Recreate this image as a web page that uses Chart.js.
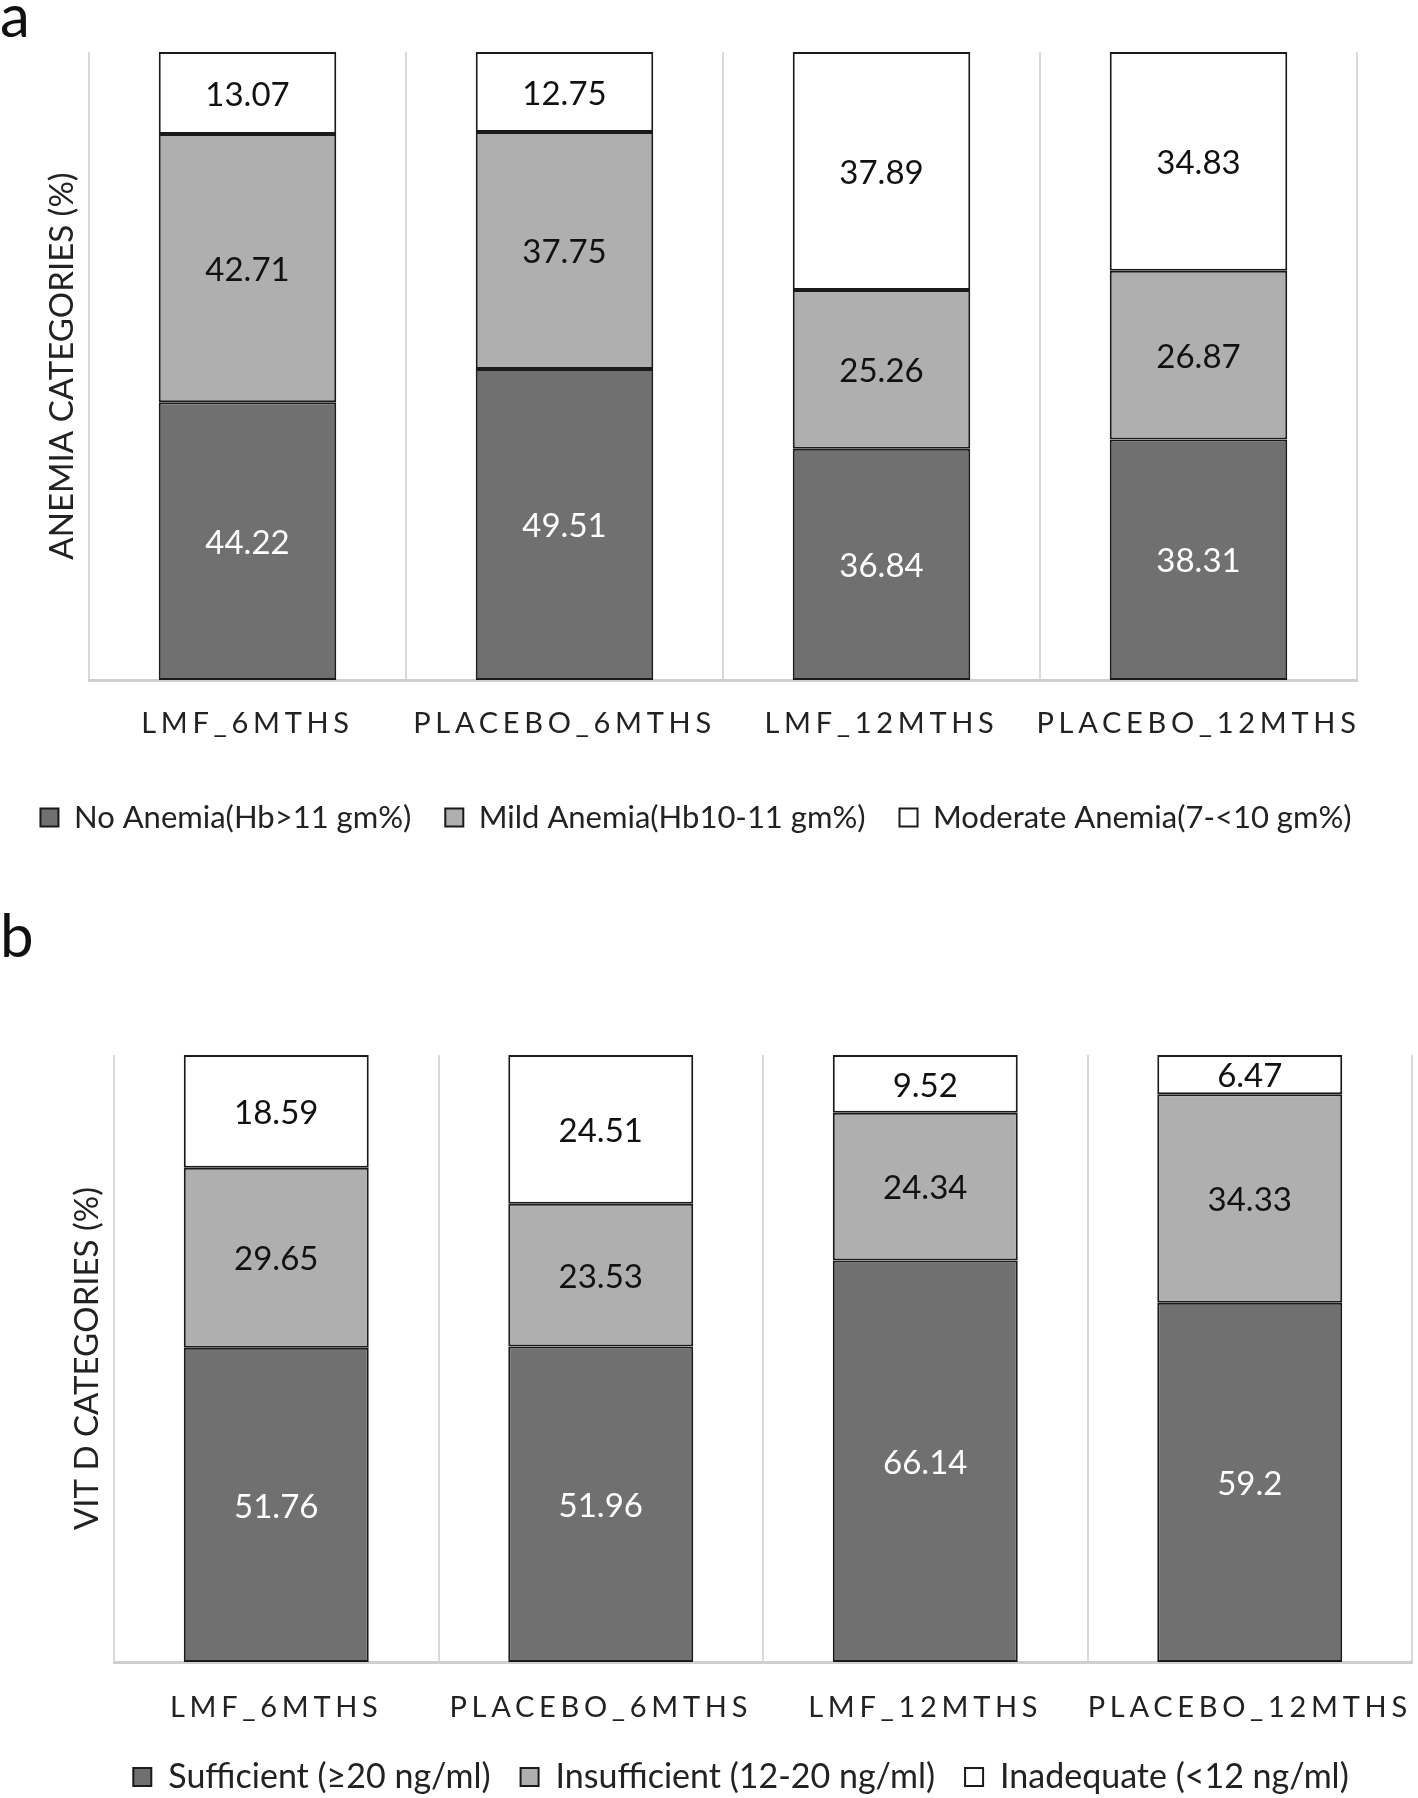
<!DOCTYPE html>
<html>
<head>
<meta charset="utf-8">
<script src="https://cdn.jsdelivr.net/npm/chart.js@4.4.1/dist/chart.umd.min.js"></script>
<style>
  html, body { margin: 0; padding: 0; background: #fff; overflow: hidden; }
  body { width: 1418px; height: 1798px; position: relative; font-family: Lato, sans-serif; }
  .panel { position: absolute; left: 0; width: 1418px; }
  .tag { position: absolute; left: 0; font-size: 60px; line-height: 60px; color: #111; }
</style>
</head>
<body>
<div class="panel" style="top:0;height:860px"><canvas id="chartA"></canvas></div>
<div class="panel" style="top:870px;height:934px"><canvas id="chartB"></canvas></div>
<div class="tag" style="top:-16px">a</div>
<div class="tag" style="top:904px">b</div>
<script>
const groups = ['LMF_6MTHS', 'PLACEBO_6MTHS', 'LMF_12MTHS', 'PLACEBO_12MTHS'];

// panel a - anemia
const noAnemia = [44.22, 49.51, 36.84, 38.31];
const mildAnemia = [42.71, 37.75, 25.26, 26.87];
const moderateAnemia = [13.07, 12.75, 37.89, 34.83];

// panel b - vit D
const sufficient = [51.76, 51.96, 66.14, 59.2];
const insufficient = [29.65, 23.53, 24.34, 34.33];
const inadequate = [18.59, 24.51, 9.52, 6.47];

const dark = 'rgb(112,112,112)';
const mid = 'rgb(175,175,175)';
const light = '#ffffff';

// category axis with spaced-out letters
class SpacedScale extends Chart.CategoryScale {
  drawLabels(area) {
    this.ctx.save();
    this.ctx.letterSpacing = '4.7px';
    super.drawLabels(area);
    this.ctx.restore();
  }
}
SpacedScale.id = 'spaced';
Chart.register(SpacedScale);

const valueLabels = {
  id: 'valueLabels',
  afterDatasetsDraw(chart) {
    const ctx = chart.ctx;
    ctx.save();
    ctx.font = '33px Lato';
    ctx.textAlign = 'center';
    ctx.textBaseline = 'middle';
    chart.data.datasets.forEach((ds, i) => {
      chart.getDatasetMeta(i).data.forEach((bar, j) => {
        const p = bar.getProps(['x', 'y', 'base'], true);
        ctx.fillStyle = i === 0 ? '#ffffff' : '#111111';
        ctx.fillText(String(ds.data[j]), p.x, (p.y + p.base) / 2 + 2);
      });
    });
    ctx.restore();
  }
};

function bar(label, data, color) {
  return {
    label: label,
    data: data,
    backgroundColor: color,
    borderColor: '#1a1a1a',
    borderWidth: 2,
    borderSkipped: false
  };
}

function makeChart(id, datasets, yTitle, s) {
  return new Chart(document.getElementById(id), {
    type: 'bar',
    data: { labels: groups, datasets: datasets },
    plugins: [valueLabels],
    options: {
      responsive: true,
      maintainAspectRatio: false,
      animation: false,
      layout: { padding: s.padding },
      datasets: { bar: { categoryPercentage: s.barPct, barPercentage: 1 } },
      plugins: {
        tooltip: { enabled: false },
        legend: {
          position: 'bottom',
          labels: {
            boxWidth: 18,
            boxHeight: 18,
            padding: s.legendPad,
            color: '#222',
            font: { family: 'Lato', size: s.legendFont }
          }
        }
      },
      scales: {
        x: {
          type: 'spaced',
          stacked: true,
          offset: true,
          grid: { offset: true, drawTicks: false, color: '#d9d9d9', lineWidth: 2 },
          border: { color: '#cfcfcf', width: 3 },
          ticks: { padding: s.tickPad, color: '#222', font: { family: 'Lato', size: 29 } },
          afterFit: sc => { sc.height = s.xHeight; }
        },
        y: {
          stacked: true,
          min: 0,
          max: 100,
          grid: { display: false },
          border: { display: false },
          ticks: { display: false },
          title: {
            display: true,
            text: yTitle,
            color: '#222',
            padding: { top: s.titlePad, bottom: 0 },
            font: { family: 'Lato', size: 33, lineHeight: 1 }
          },
          afterFit: sc => { sc.width = s.yWidth; }
        },
        // empty right-hand spacer so the legend gets the full width
        spacer: {
          position: 'right',
          grid: { display: false },
          border: { display: false },
          ticks: { display: false },
          afterFit: sc => { sc.width = s.rightGap; }
        }
      }
    }
  });
}

makeChart('chartA', [
  bar('No Anemia(Hb>11 gm%)', noAnemia, dark),
  bar('Mild Anemia(Hb10-11 gm%)', mildAnemia, mid),
  bar('Moderate Anemia(7-<10 gm%)', moderateAnemia, light)
], 'ANEMIA CATEGORIES (%)', {
  padding: { top: 52, right: 26, bottom: 17, left: 0 },
  barPct: 0.56, tickPad: 26, xHeight: 88, yWidth: 89, titlePad: 46, rightGap: 35,
  legendFont: 31, legendPad: 34
});

makeChart('chartB', [
  bar('Sufficient (≥20 ng/ml)', sufficient, dark),
  bar('Insufficient (12-20 ng/ml)', insufficient, mid),
  bar('Inadequate (<12 ng/ml)', inadequate, light)
], 'VIT D CATEGORIES (%)', {
  padding: { top: 185, right: 6, bottom: 0, left: 70 },
  barPct: 0.57, tickPad: 28, xHeight: 68, yWidth: 44, titlePad: 1, rightGap: 0,
  legendFont: 34, legendPad: 30
});
</script>
</body>
</html>
